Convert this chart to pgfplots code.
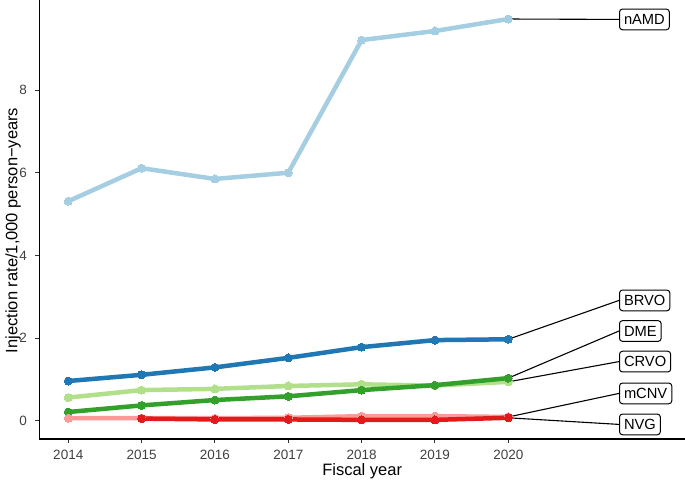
\documentclass[border=0pt]{standalone}
\usepackage{fontspec}
\setmainfont{Liberation Sans}
\usepackage{pgfplots}
\pgfplotsset{compat=1.18}

\definecolor{cnAMD}{HTML}{A6CEE3}
\definecolor{cBRVO}{HTML}{1F78B4}
\definecolor{cCRVO}{HTML}{B2DF8A}
\definecolor{cDME}{HTML}{33A02C}
\definecolor{cmCNV}{HTML}{FB9A99}
\definecolor{cNVG}{HTML}{E31A1C}

\tikzset{
  lab/.style={draw=black, line width=1pt, fill=white, rounded corners=3pt,
    anchor=west, inner xsep=4.5pt, inner ysep=0pt, minimum height=20.7pt,
    font=\fontsize{14.7}{16}\selectfont},
  seg/.style={black, line width=1.1pt},
}

\begin{document}
\begin{tikzpicture}
\begin{axis}[
  scale only axis,
  width=645.7pt, height=439pt,
  xmin=2013.605, xmax=2022.41,
  ymin=-0.443, ymax=10.18,
  axis x line*=bottom, axis y line*=left,
  axis line style={black, line width=1.1pt},
  xtick={2014,2015,2016,2017,2018,2019,2020},
  ytick={0,2,4,6,8},
  /pgf/number format/assume math mode=true,
  x tick label style={/pgf/number format/1000 sep={}},
  tick align=outside, major tick length=4pt,
  tick style={black!80, line width=1pt},
  ticklabel style={font=\fontsize{13.5}{14}\selectfont, text=black!75, inner sep=0pt},
  xticklabel style={anchor=base, yshift=-17pt},
  yticklabel style={anchor=east, xshift=-8.3pt},
  xlabel={Fiscal year},
  ylabel={Injection rate/1,000 person−years},
  label style={font=\fontsize{16.5}{18}\selectfont, inner sep=0pt},
  xlabel style={at={(axis description cs:0.5,0)}, anchor=base, yshift=-37pt},
  ylabel style={at={(axis description cs:-0.0407,0.475)}, anchor=center},
  clip=false,
  every axis plot/.append style={line width=4.5pt, mark=*, mark size=4pt,
    mark options={line width=0pt}},
]
% nAMD
\addplot[color=cnAMD] coordinates {
  (2014,5.31) (2015,6.11) (2016,5.85) (2017,6.00) (2018,9.21) (2019,9.43) (2020,9.72)};
% BRVO
\addplot[color=cBRVO] coordinates {
  (2014,0.96) (2015,1.11) (2016,1.29) (2017,1.52) (2018,1.78) (2019,1.95) (2020,1.97)};
% CRVO
\addplot[color=cCRVO] coordinates {
  (2014,0.56) (2015,0.74) (2016,0.77) (2017,0.84) (2018,0.88) (2019,0.85) (2020,0.94)};
% DME
\addplot[color=cDME] coordinates {
  (2014,0.21) (2015,0.37) (2016,0.50) (2017,0.59) (2018,0.74) (2019,0.86) (2020,1.03)};
% mCNV
\addplot[color=cmCNV] coordinates {
  (2014,0.06) (2015,0.06) (2016,0.06) (2017,0.07) (2018,0.11) (2019,0.11) (2020,0.09)};
% NVG
\addplot[color=cNVG] coordinates {
  (2015,0.05) (2016,0.03) (2017,0.03) (2018,0.02) (2019,0.02) (2020,0.07)};

% label connectors
\draw[seg] (axis cs:2020,9.72) -- (axis cs:2021.51,9.71);
\draw[seg] (axis cs:2020,1.97) -- (axis cs:2021.51,2.91);
\draw[seg] (axis cs:2020,1.03) -- (axis cs:2021.51,2.17);
\draw[seg] (axis cs:2020,0.94) -- (axis cs:2021.51,1.43);
\draw[seg] (axis cs:2020,0.09) -- (axis cs:2021.51,0.66);
\draw[seg] (axis cs:2020,0.07) -- (axis cs:2021.51,-0.09);

\node[lab] at (axis cs:2021.51,9.71) {nAMD};
\node[lab] at (axis cs:2021.51,2.91) {BRVO};
\node[lab] at (axis cs:2021.51,2.17) {DME};
\node[lab] at (axis cs:2021.51,1.43) {CRVO};
\node[lab] at (axis cs:2021.51,0.66) {mCNV};
\node[lab] at (axis cs:2021.51,-0.09) {NVG};
\end{axis}
\pgfresetboundingbox
\path (current axis.south west) ++(-39.3pt,-43pt) rectangle (current axis.north east);
\end{tikzpicture}
\end{document}
